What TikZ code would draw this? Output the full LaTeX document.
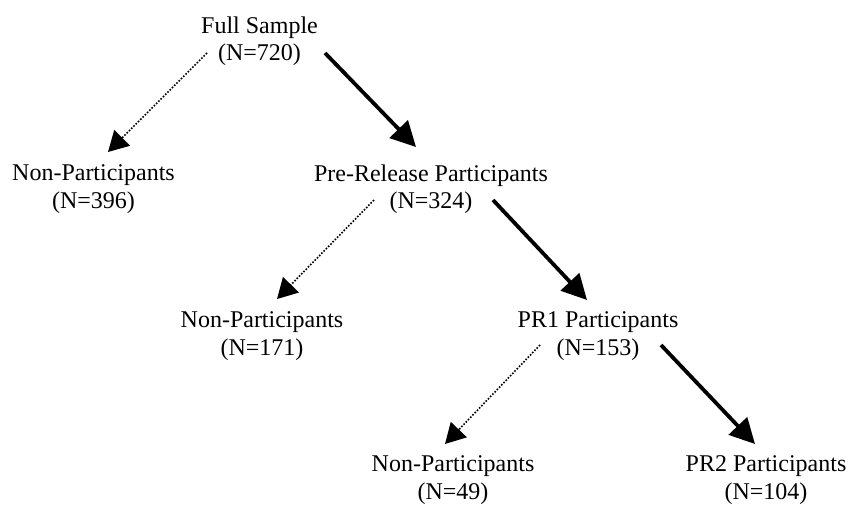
\documentclass[tikz,border=0pt]{standalone}
\usepackage{fontspec}
\setmainfont{Liberation Serif}
\usetikzlibrary{arrows.meta}
\begin{document}
\begin{tikzpicture}[x=1pt,y=-1pt,
  lbl/.style={align=center,inner sep=0pt,font=\fontsize{24}{27.5}\selectfont},
  yes/.style={line width=3.8pt,-{Triangle[length=25pt,width=25pt]}},
  no/.style={line width=1.6pt,dash pattern=on 1.6pt off 1.6pt,-{Triangle[length=20pt,width=22pt]}}]
\useasboundingbox (0,0) rectangle (848,506);
\node[lbl] (full) at (259.5,41) {Full Sample\\(N=720)};
\node[lbl] (np1) at (93.5,189) {Non-Participants\\(N=396)};
\node[lbl] (pre) at (431,189) {Pre-Release Participants\\(N=324)};
\node[lbl] (np2) at (262,336) {Non-Participants\\(N=171)};
\node[lbl] (pr1) at (598,336) {PR1 Participants\\(N=153)};
\node[lbl] (np3) at (453,480) {Non-Participants\\(N=49)};
\node[lbl] (pr2) at (766,480) {PR2 Participants\\(N=104)};
\draw[no]  ([shift={(-52.5,12)}]full.center) -- ([shift={(14.5,-37)}]np1.center);
\draw[yes] ([shift={(65.5,12)}]full.center) -- ([shift={(-15,-42)}]pre.center);
\draw[no]  ([shift={(-57,11)}]pre.center) -- ([shift={(15,-37)}]np2.center);
\draw[yes] ([shift={(62,11)}]pre.center) -- ([shift={(-11,-36)}]pr1.center);
\draw[no]  ([shift={(-58,9)}]pr1.center) -- ([shift={(-8,-36)}]np3.center);
\draw[yes] ([shift={(63,9)}]pr1.center) -- ([shift={(-11,-36)}]pr2.center);
\end{tikzpicture}
\end{document}
